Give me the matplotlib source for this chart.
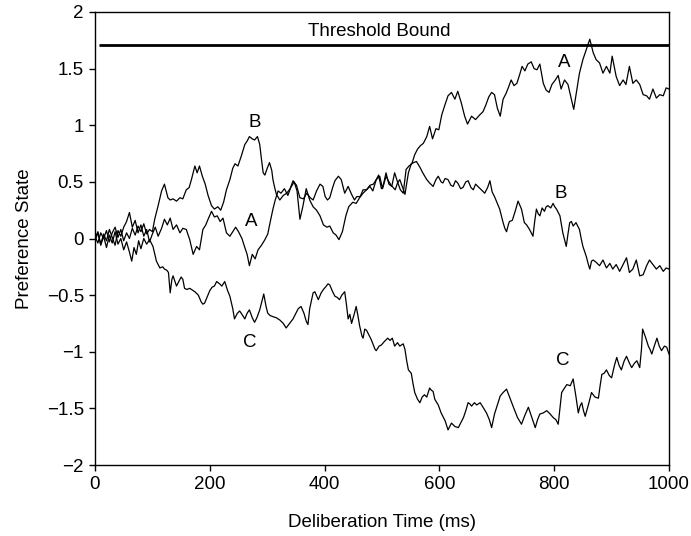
import matplotlib
matplotlib.use("Agg")
import matplotlib.pyplot as plt

plt.rcParams['font.family'] = ['Liberation Sans', 'DejaVu Sans']

t_a = [0,5,10,15,20,25,30,35,40,45,50,55,60,65,70,75,80,85,90,95,100,105,110,116,121,126,131,136,142,148,153,159,165,171,177,182,188,193,197,203,208,213,218,223,229,235,240,245,250,256,261,265,269,274,279,284,290,296,301,305,310,314,319,324,330,336,341,347,352,357,362,368,374,380,386,392,398,404,409,415,420,425,431,437,442,449,455,461,467,473,479,484,490,496,501,507,512,517,522,527,532,537,542,547,552,557,562,567,572,578,583,588,594,599,604,609,615,621,627,632,638,644,649,656,663,670,676,681,686,691,696,701,706,711,716,720,725,730,735,740,744,749,754,760,765,770,775,781,786,791,796,802,807,812,818,824,830,834,839,844,850,856,862,868,873,879,885,891,897,901,908,914,920,925,931,937,943,949,955,961,966,972,978,984,990,995,1000]
v_a = [0.00,0.06,-0.05,0.04,-0.02,0.08,0.01,-0.06,0.07,0.02,0.10,0.15,0.23,0.10,0.16,0.05,0.12,0.02,0.08,-0.03,0.04,0.10,0.02,0.09,0.17,0.12,0.18,0.08,0.12,0.05,0.09,0.08,-0.01,-0.14,-0.07,-0.10,0.08,0.12,0.17,0.24,0.19,0.20,0.15,0.18,0.05,0.02,0.06,0.10,0.06,0.00,-0.08,-0.14,-0.24,-0.14,-0.18,-0.10,-0.06,-0.01,0.04,0.14,0.26,0.34,0.42,0.40,0.44,0.38,0.45,0.50,0.42,0.17,0.28,0.44,0.34,0.28,0.25,0.20,0.12,0.10,0.11,0.05,0.03,-0.01,0.06,0.20,0.28,0.32,0.31,0.36,0.40,0.43,0.46,0.42,0.52,0.55,0.44,0.58,0.48,0.46,0.58,0.50,0.43,0.40,0.61,0.64,0.66,0.74,0.79,0.82,0.84,0.90,0.99,0.88,0.97,0.96,1.09,1.17,1.26,1.29,1.23,1.30,1.20,1.08,1.01,1.08,1.05,1.09,1.12,1.18,1.25,1.29,1.27,1.15,1.08,1.23,1.28,1.33,1.40,1.35,1.37,1.45,1.52,1.48,1.54,1.56,1.50,1.49,1.54,1.37,1.31,1.29,1.36,1.40,1.44,1.32,1.40,1.36,1.23,1.14,1.30,1.46,1.58,1.67,1.76,1.64,1.58,1.55,1.46,1.52,1.46,1.61,1.43,1.35,1.40,1.36,1.52,1.37,1.40,1.36,1.27,1.26,1.23,1.32,1.24,1.27,1.26,1.33,1.32]

t_b = [0,5,10,15,20,25,30,35,40,45,50,55,60,65,70,75,80,85,90,95,100,104,110,116,121,127,131,136,142,148,153,159,164,168,174,178,182,187,192,197,203,208,214,219,224,229,235,240,244,249,255,261,265,269,274,278,283,287,290,293,296,300,304,308,310,313,316,322,328,334,340,345,351,357,363,369,375,380,386,392,397,401,405,409,414,418,424,429,435,441,447,452,456,462,467,473,479,485,490,494,499,502,507,511,516,523,527,531,536,540,546,551,555,560,566,571,578,583,589,594,598,603,606,610,615,620,624,628,632,637,641,646,650,655,659,663,667,673,679,684,688,692,696,700,705,708,711,714,717,720,722,727,732,737,743,748,752,757,763,766,769,772,775,779,783,786,789,794,798,801,804,810,815,821,824,827,830,833,838,844,847,850,856,859,862,865,868,873,879,885,891,897,902,908,914,920,926,931,937,943,949,955,961,966,972,978,984,990,995,1000]
v_b = [0.02,-0.04,0.05,0.00,0.07,-0.03,0.05,0.10,0.01,0.08,-0.02,0.05,0.00,0.09,0.03,0.11,0.06,0.13,0.04,0.08,0.06,0.17,0.29,0.42,0.48,0.36,0.34,0.35,0.33,0.36,0.35,0.43,0.45,0.52,0.64,0.58,0.64,0.55,0.48,0.38,0.29,0.26,0.28,0.25,0.32,0.43,0.52,0.62,0.66,0.64,0.73,0.83,0.86,0.90,0.88,0.87,0.90,0.83,0.70,0.58,0.56,0.62,0.67,0.60,0.52,0.45,0.39,0.34,0.38,0.40,0.44,0.51,0.47,0.36,0.35,0.40,0.36,0.34,0.42,0.48,0.46,0.37,0.34,0.36,0.45,0.51,0.55,0.52,0.40,0.46,0.39,0.34,0.37,0.37,0.43,0.43,0.47,0.48,0.52,0.56,0.44,0.46,0.55,0.51,0.47,0.43,0.49,0.52,0.45,0.39,0.58,0.66,0.67,0.68,0.63,0.58,0.52,0.49,0.46,0.52,0.55,0.50,0.49,0.53,0.52,0.47,0.46,0.51,0.49,0.44,0.45,0.50,0.51,0.45,0.43,0.48,0.46,0.43,0.40,0.45,0.51,0.41,0.37,0.32,0.26,0.20,0.14,0.09,0.06,0.12,0.15,0.16,0.24,0.33,0.26,0.14,0.12,0.08,0.02,0.15,0.26,0.22,0.20,0.27,0.24,0.28,0.29,0.27,0.31,0.28,0.26,0.20,0.05,-0.07,0.04,0.14,0.15,0.11,0.14,0.08,0.00,-0.07,-0.16,-0.22,-0.27,-0.20,-0.19,-0.21,-0.24,-0.19,-0.26,-0.22,-0.27,-0.23,-0.29,-0.23,-0.17,-0.30,-0.27,-0.19,-0.33,-0.32,-0.24,-0.19,-0.23,-0.27,-0.24,-0.29,-0.26,-0.27]

t_c = [0,5,10,15,20,25,30,35,40,45,50,55,60,64,68,72,76,80,85,90,95,101,107,113,118,121,125,128,131,134,136,142,145,150,153,156,160,165,171,174,180,185,188,191,195,200,204,208,212,217,221,226,231,235,240,243,248,252,256,261,265,269,274,278,282,287,291,294,298,301,305,310,316,322,328,333,339,345,350,354,359,364,368,371,374,380,383,389,394,398,403,406,409,414,418,422,426,430,435,438,441,444,447,452,455,458,461,465,467,470,473,477,481,485,488,490,495,499,504,510,514,518,522,527,531,534,537,540,543,546,551,554,557,562,566,570,574,578,583,586,589,592,598,603,607,610,615,618,621,627,633,638,642,646,650,653,656,661,665,671,676,682,687,691,696,701,706,711,717,723,729,736,743,749,755,761,767,771,775,781,787,793,798,803,807,810,813,818,822,828,833,838,842,845,848,851,854,860,865,871,877,880,883,887,891,896,900,905,909,913,917,922,926,931,935,940,944,949,952,954,959,964,967,970,975,979,983,987,992,996,1000]
v_c = [-0.02,0.05,-0.06,0.02,-0.08,0.03,-0.04,0.06,-0.05,0.00,-0.10,-0.03,-0.12,-0.20,-0.08,-0.14,-0.02,-0.09,0.00,-0.05,-0.01,-0.07,-0.20,-0.26,-0.25,-0.27,-0.28,-0.30,-0.48,-0.36,-0.33,-0.42,-0.39,-0.34,-0.36,-0.44,-0.45,-0.44,-0.46,-0.47,-0.50,-0.56,-0.58,-0.57,-0.52,-0.46,-0.43,-0.42,-0.38,-0.40,-0.42,-0.38,-0.46,-0.51,-0.62,-0.71,-0.66,-0.64,-0.67,-0.71,-0.66,-0.63,-0.70,-0.74,-0.70,-0.63,-0.55,-0.49,-0.60,-0.66,-0.68,-0.69,-0.70,-0.72,-0.75,-0.79,-0.75,-0.71,-0.66,-0.62,-0.60,-0.66,-0.73,-0.76,-0.62,-0.48,-0.47,-0.54,-0.48,-0.45,-0.42,-0.40,-0.41,-0.47,-0.51,-0.52,-0.54,-0.50,-0.47,-0.58,-0.71,-0.67,-0.75,-0.66,-0.60,-0.68,-0.77,-0.86,-0.88,-0.80,-0.81,-0.85,-0.89,-0.94,-0.98,-0.99,-0.95,-0.94,-0.91,-0.88,-0.90,-0.88,-0.95,-0.92,-0.95,-0.94,-0.93,-0.98,-1.08,-1.16,-1.19,-1.28,-1.36,-1.42,-1.45,-1.40,-1.38,-1.40,-1.32,-1.34,-1.35,-1.42,-1.47,-1.54,-1.58,-1.61,-1.69,-1.66,-1.63,-1.66,-1.67,-1.62,-1.58,-1.52,-1.45,-1.46,-1.48,-1.45,-1.47,-1.45,-1.49,-1.54,-1.60,-1.67,-1.55,-1.47,-1.39,-1.36,-1.33,-1.41,-1.49,-1.58,-1.64,-1.56,-1.49,-1.58,-1.67,-1.60,-1.55,-1.54,-1.52,-1.55,-1.58,-1.60,-1.64,-1.50,-1.36,-1.32,-1.29,-1.30,-1.24,-1.40,-1.54,-1.48,-1.45,-1.52,-1.57,-1.46,-1.36,-1.40,-1.41,-1.30,-1.20,-1.19,-1.16,-1.21,-1.23,-1.12,-1.05,-1.12,-1.16,-1.08,-1.04,-1.10,-1.14,-1.10,-1.08,-1.14,-0.98,-0.80,-0.87,-0.95,-0.98,-1.02,-0.94,-0.88,-0.95,-0.99,-0.95,-0.96,-1.02]

threshold = 1.71
threshold_start = 7
xticks = [0, 200, 400, 600, 800, 1000]
yticks = [-2, -1.5, -1, -0.5, 0, 0.5, 1, 1.5, 2]
ytick_labels = ['\u22122', '\u22121.5', '\u22121', '\u22120.5', '0', '0.5', '1', '1.5', '2']
labels = [('A', 818, 1.55), ('B', 278, 1.02), ('A', 272, 0.15),
          ('B', 812, 0.40), ('C', 270, -0.92), ('C', 815, -1.08)]

fs = 13.5
fig = plt.figure(figsize=(6.91, 5.36), dpi=100)
ax = fig.add_axes([95/691, 1 - 465/536, (669-95)/691, (465-12)/536])

for t, v in [(t_a, v_a), (t_b, v_b), (t_c, v_c)]:
    ax.plot(t, v, color='black', lw=0.9)

ax.plot([threshold_start, 1000], [threshold, threshold], color='black', lw=2.0, solid_capstyle='butt')
ax.text(496, 1.83, 'Threshold Bound', ha='center', va='center', fontsize=fs)
for s, x, y in labels:
    ax.text(x, y, s, ha='center', va='center', fontsize=fs)

ax.set_xlim(0, 1000)
ax.set_ylim(-2, 2)
ax.set_xticks(xticks)
ax.set_xticklabels([str(x) for x in xticks])
ax.set_yticks(yticks)
ax.set_yticklabels(ytick_labels)
ax.tick_params(direction='out', length=4, width=1, labelsize=fs, pad=4)
for sp in ax.spines.values():
    sp.set_linewidth(1.0)
ax.set_xlabel('Deliberation Time (ms)', fontsize=fs, labelpad=15)
ax.set_ylabel('Preference State', fontsize=fs, labelpad=10)

fig.savefig('out.png', dpi=100)
